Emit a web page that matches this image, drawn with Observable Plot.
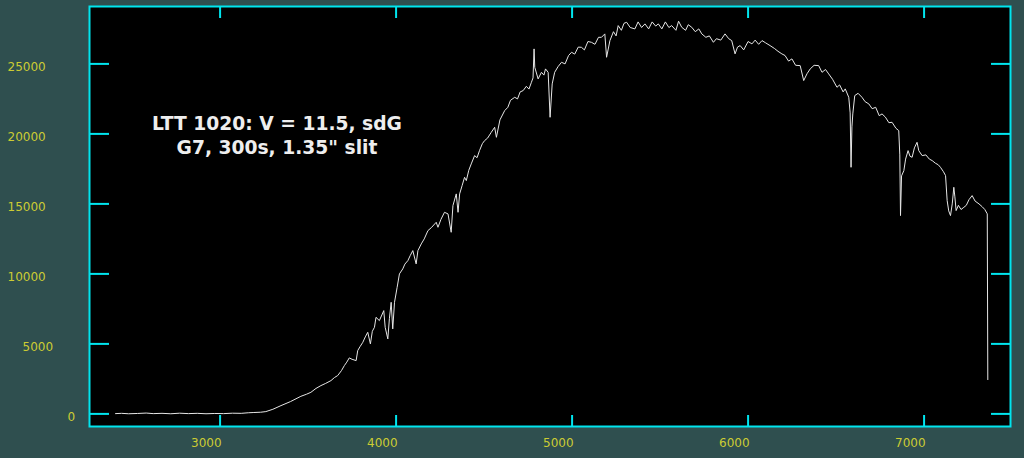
<!DOCTYPE html>
<html><head><meta charset="utf-8">
<script src="https://cdn.jsdelivr.net/npm/d3@7"></script>
<script src="https://cdn.jsdelivr.net/npm/@observablehq/plot@0.6"></script>
<style>html,body{margin:0;padding:0;background:#2f4f4f;overflow:hidden;}</style>
</head><body><div id="chart"></div>
<script>
const wavelength = [2406,2440,2480,2530,2580,2620,2670,2720,2770,2820,2870,2920,2970,3020,3070,3120,3160,3192,3230,3260,3300,3346,3400,3459,3490,3516,3545,3573,3600,3630,3650,3668,3690,3706,3720,3734,3750,3773,3782,3795,3811,3825,3839,3854,3865,3877,3886,3905,3930,3938,3953,3962,3972,3981,3991,4006,4019,4038,4050,4067,4080,4095,4114,4124,4143,4160,4181,4200,4228,4238,4255,4275,4295,4313,4323,4342,4352,4361,4375,4389,4399,4413,4427,4446,4460,4474,4490,4503,4520,4540,4560,4570,4590,4617,4635,4650,4674,4690,4705,4722,4740,4755,4769,4778,4784,4788,4807,4826,4840,4849,4864,4875,4887,4901,4920,4940,4960,4980,4997,5015,5035,5053,5070,5090,5110,5130,5150,5167,5186,5196,5215,5235,5250,5262,5280,5295,5310,5330,5357,5375,5395,5414,5435,5455,5475,5490,5510,5530,5550,5566,5590,5605,5623,5645,5660,5680,5700,5720,5737,5760,5780,5803,5820,5845,5869,5890,5907,5926,5940,5955,5975,6000,6022,6040,6060,6079,6100,6125,6150,6170,6192,6210,6230,6249,6270,6296,6316,6335,6353,6375,6401,6420,6440,6458,6480,6505,6520,6540,6552,6572,6580,6585,6590,6595,6606,6625,6647,6665,6686,6705,6725,6745,6761,6780,6800,6818,6840,6856,6862,6866,6872,6885,6895,6909,6920,6932,6945,6960,6970,6989,7010,7030,7046,7065,7080,7093,7110,7122,7131,7140,7150,7160,7169,7175,7182,7195,7210,7226,7240,7255,7273,7290,7312,7330,7345,7359,7362];
const flux = [20,40,10,30,60,20,40,10,50,20,40,10,30,20,50,40,80,100,120,164,330,593,880,1257,1400,1543,1820,2022,2180,2379,2600,2736,3100,3450,3700,4000,3900,3807,4522,4800,5114,5500,5829,5000,5900,6186,6900,6664,7379,6186,5357,6800,7972,6072,7972,9043,10000,10357,10700,10950,11300,11664,10714,11664,12143,12500,13093,13300,13686,13329,13900,14400,14286,12972,14879,15714,14400,15714,16300,16900,16664,17400,17857,18450,18300,18807,19300,19522,19700,20100,20472,19757,21000,21664,21900,22400,22615,22500,23000,23093,23400,23200,23686,24000,26072,24757,23929,24400,24200,24643,24400,21186,23572,24400,24800,25115,25000,25600,25829,25700,26200,26186,26000,26600,26543,26400,26900,26900,27143,25472,26665,27300,27000,27736,27400,27900,27972,27600,27500,28000,27600,27857,27500,28000,27700,27857,27500,28000,27600,27736,27400,28050,27615,27400,27800,27615,27300,27500,27143,26900,27000,26543,26800,26700,27143,26800,26665,25715,26200,26307,26000,26600,26429,26700,26400,26665,26500,26307,26100,25900,25715,25600,25200,25358,24900,24879,23808,24300,24643,24900,24879,24400,24600,24286,23900,23329,23500,23000,23215,22615,21500,17615,20500,21429,22736,22900,22615,22300,22143,21800,21900,21300,21429,21200,20800,20829,20400,20236,18500,14165,17000,17379,18200,18807,18400,18329,19000,19400,18800,18450,18500,18200,18093,17900,17800,17615,17300,17022,15236,14500,14165,15000,16186,15500,14522,14900,14600,14757,14900,15300,15593,15200,15000,14800,14600,14286,2450];
const xTicks = [3000,4000,5000,6000,7000];
const yTicks = [0,5000,10000,15000,20000,25000];
const titleText = "LTT 1020: V = 11.5, sdG\nG7, 300s, 1.35\" slit";

const data = wavelength.map((w, i) => ({w, f: flux[i]}));
const cyan = "#00e5ee";
const yellow = "#cccc33";
const labelFont = "DejaVu Sans";

const yLabelMarks = yTicks.map(t => {
  const n = String(t).length;
  return Plot.text([t], {y: d => d, text: d => String(d), frameAnchor: "left", textAnchor: "start",
    dx: -82 + 15 * (5 - n), dy: 3.5, fill: yellow, fontSize: 12, fontFamily: labelFont});
});

const chart = Plot.plot({
  width: 1024, height: 458,
  marginLeft: 89, marginRight: 14, marginTop: 6, marginBottom: 32,
  style: {background: "#2f4f4f", overflow: "visible"},
  x: {domain: [2258, 7491], axis: null},
  y: {domain: [-900, 29100], axis: null},
  marks: [
    Plot.frame({fill: "black"}),
    Plot.line(data, {x: "w", y: "f", stroke: "#e6e6e6", strokeWidth: 1}),
    Plot.axisX({ticks: xTicks, anchor: "bottom", label: null, tickSize: -11, stroke: cyan, strokeWidth: 2, tickFormat: () => ""}),
    Plot.axisX({ticks: xTicks, anchor: "top", label: null, tickSize: -11, stroke: cyan, strokeWidth: 2, tickFormat: () => ""}),
    Plot.axisY({ticks: yTicks, anchor: "left", label: null, tickSize: -20, stroke: cyan, strokeWidth: 2, tickFormat: () => ""}),
    Plot.axisY({ticks: yTicks, anchor: "right", label: null, tickSize: -20, stroke: cyan, strokeWidth: 2, tickFormat: () => ""}),
    Plot.frame({stroke: cyan, strokeWidth: 2}),
    Plot.text(xTicks, {x: d => d, text: d => String(d), frameAnchor: "bottom", textAnchor: "end", dx: 1.5, dy: 17, lineAnchor: "middle", fill: yellow, fontSize: 12, fontFamily: labelFont}),
    ...yLabelMarks,
    Plot.text([titleText], {text: d => d, frameAnchor: "top-left", dx: 187.5, dy: 128, textAnchor: "middle", lineAnchor: "middle", lineHeight: 1.25, fill: "#eeeeee", fontSize: 18.7, fontWeight: "bold", fontFamily: "DejaVu Sans"})
  ]
});
document.getElementById("chart").appendChild(chart);
</script>
</body></html>
